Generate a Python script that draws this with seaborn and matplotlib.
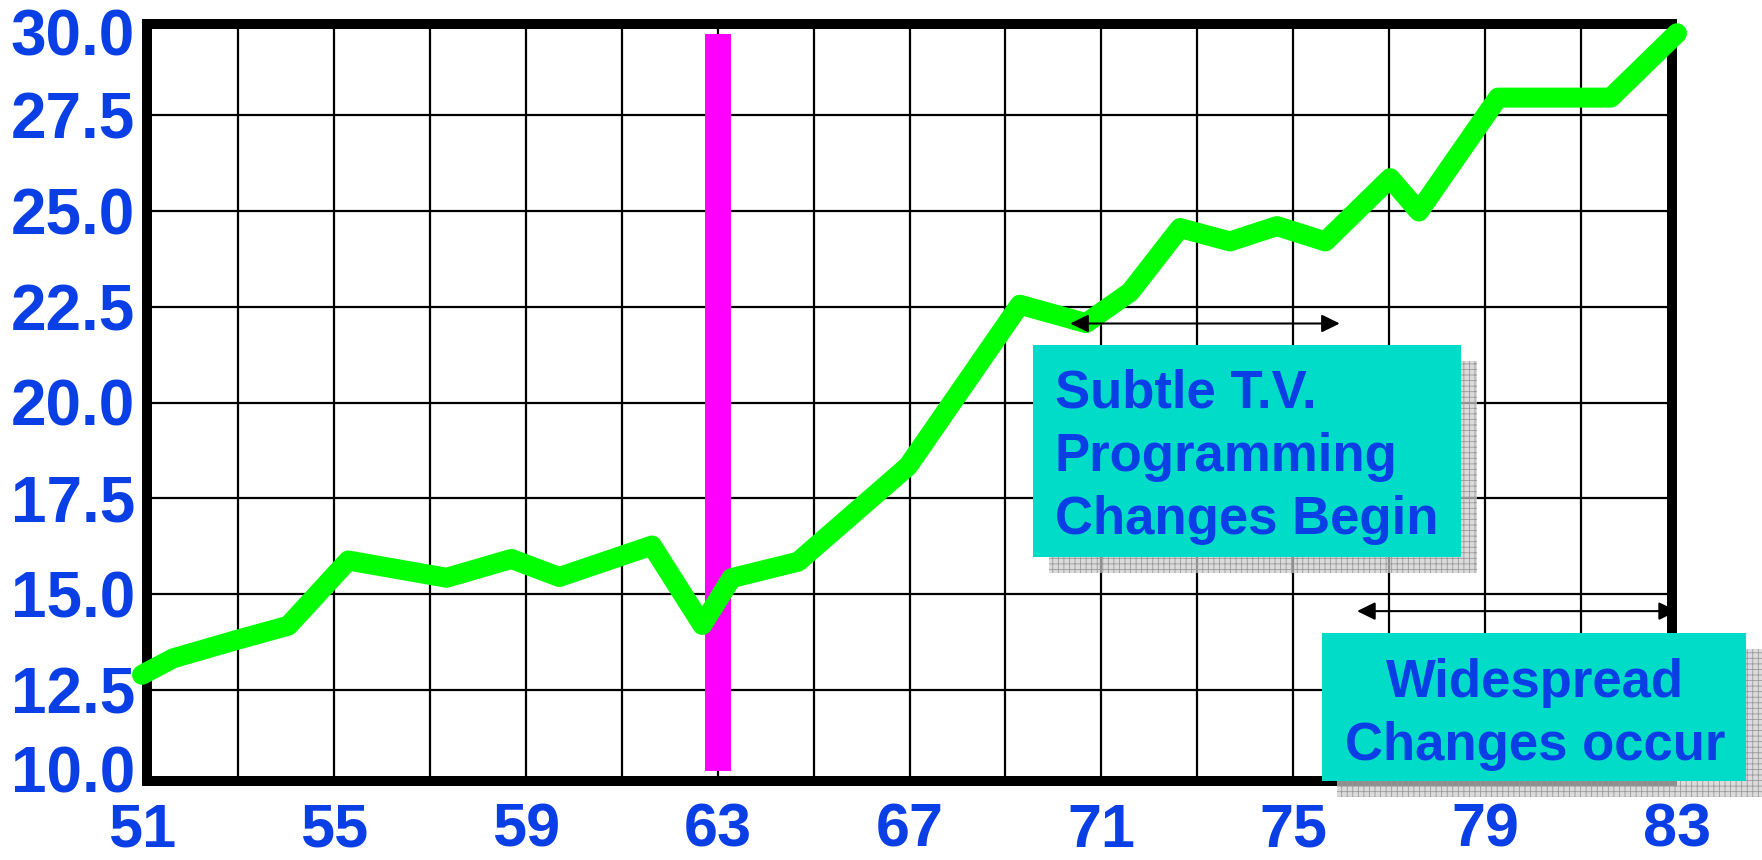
import numpy as np
import matplotlib
matplotlib.use("Agg")
import matplotlib.pyplot as plt
import seaborn as sns
from matplotlib.patches import Rectangle
from matplotlib.transforms import ScaledTranslation

# ---- data ----
years = [51.0, 51.65, 52.95, 54.05, 55.3, 57.35, 58.7, 59.7, 61.63, 62.68, 63.29,
         64.68, 66.97, 69.3, 70.68, 71.6, 72.64, 73.68, 74.66, 75.67, 77.02, 77.62,
         79.27, 81.62, 83.0]
values = [12.9, 13.33, 13.8, 14.18, 15.88, 15.43, 15.92, 15.45, 16.27, 14.2, 15.42,
          15.85, 18.34, 22.55, 22.07, 22.88, 24.55, 24.2, 24.6, 24.2, 25.85, 24.98,
          27.95, 27.95, 29.63]
marker_year = [63, 63]
marker_span = [10.4, 29.6]
x_ticks = [51, 55, 59, 63, 67, 71, 75, 79, 83]
x_grid = list(range(51, 84, 2))
y_ticks = [10.0, 12.5, 15.0, 17.5, 20.0, 22.5, 25.0, 27.5, 30.0]
y_tick_labels = ["10.0", "12.5", "15.0", "17.5", "20.0", "22.5", "25.0", "27.5", "30.0"]
subtle_span = [70.35, 75.97]
subtle_level = 22.06
widespread_span = [76.33, 83.0]
widespread_level = 14.56
subtle_text = ["Subtle T.V.", "Programming", "Changes Begin"]
widespread_text = ["Widespread", "Changes occur"]

BLUE = "#0b3fe6"
CYAN = "#00dcc8"
GREEN = "#00ff00"
MAGENTA = "#ff00ff"

sns.set_style("white")
plt.rcParams["font.family"] = ["Liberation Sans", "DejaVu Sans"]
plt.rcParams["hatch.linewidth"] = 0.6

W, H = 1762, 860
AX_L, AX_R, AX_T, AX_B = 142, 1677, 19, 786
fig = plt.figure(figsize=(W / 100, H / 100), dpi=100)
fig.patch.set_facecolor("white")
ax = fig.add_axes([AX_L / W, 1 - AX_B / H, (AX_R - AX_L) / W, (AX_B - AX_T) / H])

# magenta marker bar
ax.plot(marker_year, marker_span, color=MAGENTA, linewidth=18.7,
        solid_capstyle="butt", zorder=2.2)

# green series
sns.lineplot(x=years, y=values, ax=ax, color=GREEN, linewidth=14.4,
             solid_joinstyle="round", solid_capstyle="round",
             clip_on=False, zorder=4)

# double-headed arrows
for span, lvl in [(subtle_span, subtle_level), (widespread_span, widespread_level)]:
    ax.annotate("", xy=(span[0], lvl), xytext=(span[1], lvl),
                arrowprops=dict(arrowstyle="<|-|>,head_length=0.55,head_width=0.27",
                                mutation_scale=20, color="black", lw=1.5,
                                shrinkA=0, shrinkB=0),
                zorder=5, annotation_clip=False)

# thick frame drawn just inside the plot area (instead of centred spines)
for s in ax.spines.values():
    s.set_visible(False)
fx = 5 / (AX_R - AX_L)
fy = 5 / (AX_B - AX_T)
ax.add_patch(Rectangle((fx, fy), 1 - 2 * fx, 1 - 2 * fy, transform=ax.transAxes,
                       fill=False, edgecolor="black", linewidth=7.2,
                       joinstyle="miter", clip_on=False, zorder=3))

ax.set_xlim(51, 83)
ax.set_ylim(10, 30)
ax.set_xticks(x_ticks)
ax.set_xticks(x_grid, minor=True)
ax.set_yticks(y_ticks)
ax.set_xticklabels([str(t) for t in x_ticks], fontsize=44, fontweight="bold", color=BLUE)
ax.set_yticklabels(y_tick_labels, fontsize=46, fontweight="bold", color=BLUE)
ax.tick_params(axis="both", which="both", length=0)
ax.tick_params(axis="y", pad=5)
ax.tick_params(axis="x", pad=12)
ax.grid(True, axis="x", which="both", color="black", linewidth=1.6)
ax.grid(True, axis="y", which="major", color="black", linewidth=1.6)
ax.set_axisbelow(True)
ax.set_xlabel("")
ax.set_ylabel("")

# shift end y labels inward like the reference
yt = ax.yaxis.get_major_ticks()
yt[0].label1.set_transform(yt[0].label1.get_transform()
                           + ScaledTranslation(0, 0.17, fig.dpi_scale_trans))
yt[-1].label1.set_transform(yt[-1].label1.get_transform()
                            + ScaledTranslation(0, -0.135, fig.dpi_scale_trans))


def fig_rect(x0, y0, x1, y1, **kw):
    r = Rectangle((x0 / W, 1 - y1 / H), (x1 - x0) / W, (y1 - y0) / H,
                  transform=fig.transFigure, clip_on=False, **kw)
    fig.add_artist(r)
    return r


def shadow(x0, y0, x1, y1):
    fig_rect(x0, y0, x1, y1, facecolor=(0.80, 0.80, 0.80, 0.7),
             edgecolor=(0.60, 0.60, 0.60), linewidth=0, hatch="+++", zorder=6)


# box 1
shadow(1049, 361, 1477, 573)
fig_rect(1033, 345, 1461, 557, facecolor=CYAN, edgecolor="none", zorder=7)
for txt, base in zip(subtle_text, [408, 471, 534]):
    fig.text(1055 / W, 1 - base / H, txt, fontsize=38, fontweight="bold",
             color=BLUE, ha="left", va="baseline", zorder=8)

# box 2
shadow(1337, 649, 1762, 797)
fig_rect(1322, 633, 1746, 781, facecolor=CYAN, edgecolor="none", zorder=7)
for txt, base in zip(widespread_text, [697, 760]):
    fig.text(1535 / W, 1 - base / H, txt, fontsize=38, fontweight="bold",
             color=BLUE, ha="center", va="baseline", zorder=8)

fig.savefig("out.png", dpi=100, facecolor="white")
